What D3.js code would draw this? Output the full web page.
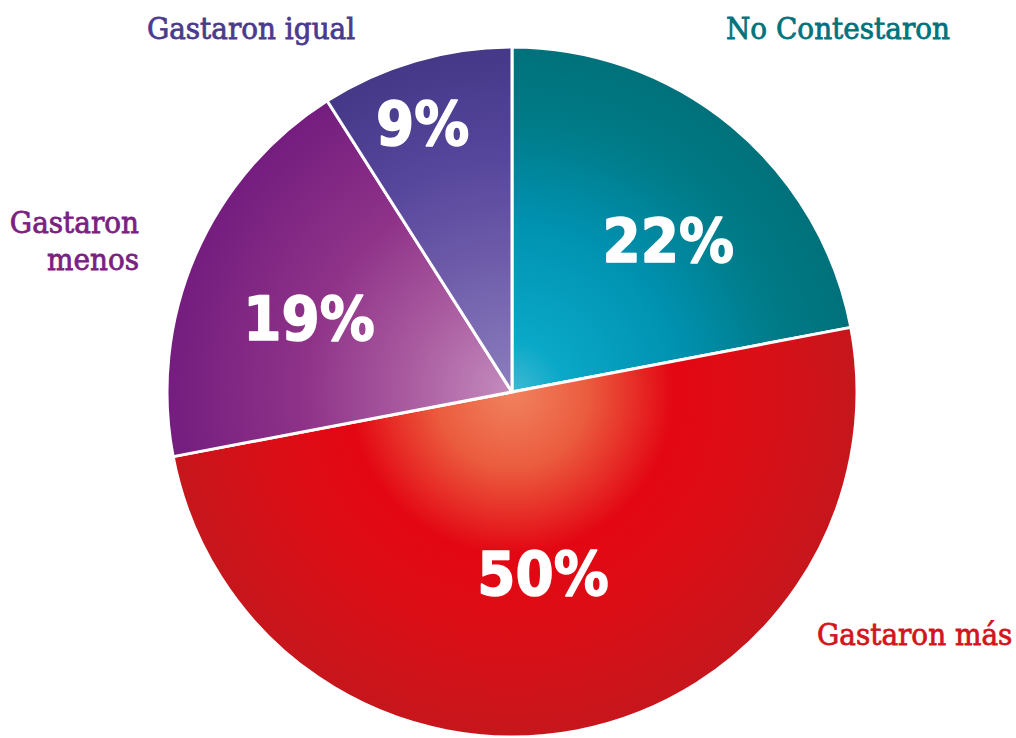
<!DOCTYPE html>
<html>
<head>
<meta charset="utf-8">
<script src="https://cdn.jsdelivr.net/npm/d3@7"></script>
<style>
  body { margin: 0; background: #fff; }
  svg { display: block; }
</style>
</head>
<body>
<div id="chart-area"></div>
<script>
// data
var categories = ["No Contestaron", "Gastaron más", "Gastaron menos", "Gastaron igual"];
var values = [22, 50, 19, 9];
var pctLabels = ["22%", "50%", "19%", "9%"];

var width = 1016,
	height = 738;
var cx = 512, cy = 392, radius = 345;

// gradient stops per slice (offset, colour), from centre to rim
var gradStops = [
	[[0, "#3dbad3"], [0.15, "#0aa8c8"], [0.5, "#0091b0"], [0.78, "#007b88"], [1, "#00717a"]],
	[[0, "#f0825f"], [0.22, "#eb5c3e"], [0.47, "#e30613"], [0.7, "#db0e16"], [1, "#c6161c"]],
	[[0, "#c48cbe"], [0.3, "#aa5ca0"], [0.6, "#8f3389"], [1, "#741d7f"]],
	[[0, "#8c7ebe"], [0.4, "#6d5ba9"], [0.7, "#55459b"], [1, "#443887"]]
];
var textColors = ["#00727b", "#d3141b", "#7b2080", "#4a3a8c"];

// layout of the outside labels
var outLabels = [
	{x: 838, y: 39, anchor: "middle", lines: ["No Contestaron"]},
	{x: 817, y: 645, anchor: "start", lines: ["Gastaron más"]},
	{x: 139, y: 233, anchor: "end", lines: ["Gastaron", "menos"]},
	{x: 251, y: 39, anchor: "middle", lines: ["Gastaron igual"]}
];
// layout of the percentages (radius and angle nudge in degrees)
var labelRadius = [218, 184, 216, 283];
var labelNudge = [6.2, 1.1, -3.4, -2.2];

var svg = d3.select("#chart-area").append("svg")
	.attr("width", width)
	.attr("height", height);

var defs = svg.append("defs");
gradStops.forEach(function(stops, i){
	var g = defs.append("radialGradient")
		.attr("id", "grad" + i)
		.attr("gradientUnits", "userSpaceOnUse")
		.attr("cx", 0).attr("cy", 0).attr("r", radius);
	stops.forEach(function(s){
		g.append("stop").attr("offset", s[0]).attr("stop-color", s[1]);
	});
});

var pie = d3.pie().sort(null).value(function(d){ return d; });
var arcs = pie(values);

var arc = d3.arc().innerRadius(0).outerRadius(radius);

var g = svg.append("g")
	.attr("transform", "translate(" + cx + "," + cy + ")");

g.selectAll("path")
	.data(arcs)
	.enter()
	.append("path")
	.attr("d", arc)
	.attr("fill", function(d, i){ return "url(#grad" + i + ")"; })
	.attr("stroke", "#fff")
	.attr("stroke-width", 3)
	.attr("stroke-linejoin", "round");

// percentages inside
g.selectAll("g.pct")
	.data(arcs)
	.enter()
	.append("g")
	.attr("class", "pct")
	.attr("transform", function(d, i){
		var a = (d.startAngle + d.endAngle) / 2 + labelNudge[i] * Math.PI / 180;
		var x = labelRadius[i] * Math.sin(a),
			y = -labelRadius[i] * Math.cos(a);
		return "translate(" + x + "," + (y + 22) + ") scale(0.9,1)";
	})
	.append("text")
	.attr("text-anchor", "middle")
	.attr("font-family", "'DejaVu Sans', sans-serif")
	.attr("font-weight", "bold")
	.attr("font-size", 61)
	.attr("fill", "#fff")
	.attr("stroke", "#fff")
	.attr("stroke-width", 1.6)
	.attr("stroke-linejoin", "round")
	.text(function(d, i){ return pctLabels[i]; });

// category labels
outLabels.forEach(function(l, i){
	var t = svg.append("g")
		.attr("transform", "translate(" + l.x + "," + l.y + ") scale(0.93,1)")
		.append("text")
		.attr("text-anchor", l.anchor)
		.attr("font-family", "'DejaVu Serif', serif")
		.attr("font-size", 30)
		.attr("fill", textColors[i])
		.attr("stroke", textColors[i])
		.attr("stroke-width", 0.8);
	l.lines.forEach(function(s, j){
		t.append("tspan").attr("x", 0).attr("dy", j == 0 ? 0 : 37).text(s);
	});
});
</script>
</body>
</html>
